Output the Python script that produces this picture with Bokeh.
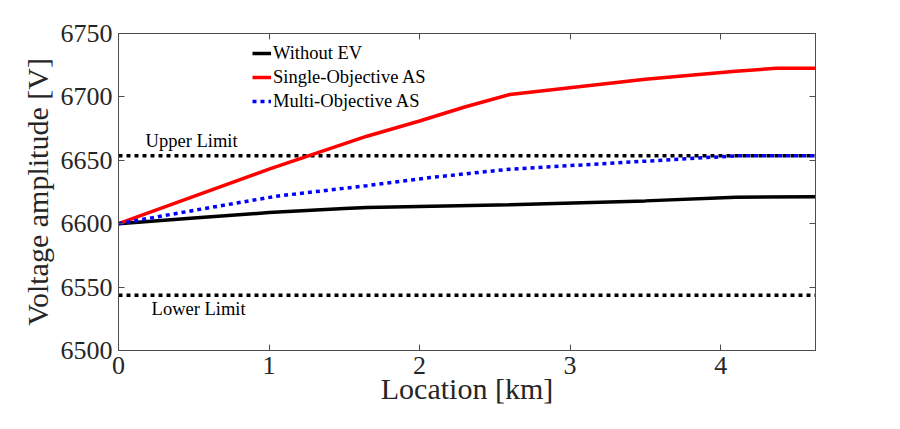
from bokeh.plotting import figure
from bokeh.models import LinearAxis, Legend, LegendItem, FixedTicker, Range1d
from bokeh.core.properties import value
from bokeh.embed import file_html
from bokeh.resources import INLINE

# ---------------- data ----------------
X_MAX = 4.63
Y_MIN, Y_MAX = 6500, 6750
x_ticks = [0, 1, 2, 3, 4]
y_ticks = [6500, 6550, 6600, 6650, 6700, 6750]

without_x = [0, 0.5, 1.0, 1.5, 1.65, 2.6, 3.5, 4.1, 4.63]
without_y = [6600, 6604.5, 6608.8, 6612, 6612.8, 6615, 6618, 6620.8, 6621.3]

single_x = [0, 0.5, 1.0, 1.65, 2.0, 2.3, 2.6, 3.5, 4.1, 4.37, 4.63]
single_y = [6600, 6621.5, 6643, 6669, 6681, 6692, 6701.9, 6714, 6720.3, 6722.5, 6722.5]

multi_x = [0, 0.5, 1.05, 1.65, 2.07, 2.6, 3.5, 4.1, 4.63]
multi_y = [6600, 6610.5, 6621.7, 6630, 6636.4, 6643, 6649.3, 6653.5, 6653.5]

upper_limit = 6653.6
lower_limit = 6543.5
upper_label = "Upper Limit"
lower_label = "Lower Limit"
upper_label_pos = (0.18, 6665.6)
lower_label_pos = (0.22, 6532.6)

series_names = ["Without EV", "Single-Objective AS", "Multi-Objective AS"]

# ---------------- styling ----------------
FONT = "Liberation Serif"
AX = "#4d4d4d"

p = figure(width=884, height=413, output_backend="svg", toolbar_location=None,
           x_range=Range1d(0, X_MAX), y_range=Range1d(Y_MIN, Y_MAX))
p.min_border_left = 118
p.min_border_right = 69
p.min_border_top = 33
p.min_border_bottom = 63
p.grid.visible = False
p.outline_line_color = AX
p.outline_line_width = 1
p.background_fill_color = "white"
p.border_fill_color = "white"

for ax in (p.xaxis[0], p.yaxis[0]):
    ax.axis_line_color = AX
    ax.major_tick_line_color = AX
    ax.major_tick_in = 6
    ax.major_tick_out = 0
    ax.minor_tick_line_color = None
    ax.major_label_text_font = FONT
    ax.major_label_text_font_size = "26px"
    ax.major_label_text_color = "#262626"
    ax.axis_label_text_font = FONT
    ax.axis_label_text_font_size = "30px"
    ax.axis_label_text_font_style = "normal"
    ax.axis_label_text_color = "#262626"

p.xaxis[0].ticker = FixedTicker(ticks=x_ticks)
p.yaxis[0].ticker = FixedTicker(ticks=y_ticks)
p.xaxis[0].axis_label = "Location [km]"
p.yaxis[0].axis_label = "Voltage amplitude [V]"
p.xaxis[0].major_label_standoff = 6
p.xaxis[0].axis_label_standoff = -5
p.yaxis[0].major_label_standoff = 6
p.yaxis[0].axis_label_standoff = 4

# mirrored axes (ticks only, no labels)
top = LinearAxis(ticker=FixedTicker(ticks=x_ticks))
right = LinearAxis(ticker=FixedTicker(ticks=y_ticks))
for ax in (top, right):
    ax.axis_line_color = AX
    ax.major_tick_line_color = AX
    ax.major_tick_in = 6
    ax.major_tick_out = 0
    ax.minor_tick_line_color = None
    ax.major_label_text_color = None
    ax.major_label_text_font_size = "1px"
    ax.major_label_standoff = 0
p.add_layout(top, "above")
p.add_layout(right, "right")

# limit lines
p.line([0, X_MAX], [upper_limit, upper_limit], line_color="black", line_width=3.5, line_dash="4 4")
p.line([0, X_MAX], [lower_limit, lower_limit], line_color="black", line_width=3.5, line_dash="4 4")

r_black = p.line(without_x, without_y, line_color="black", line_width=3.5)
r_red = p.line(single_x, single_y, line_color="#ff0000", line_width=3.5)
r_blue = p.line(multi_x, multi_y, line_color="#0000ff", line_width=3.5, line_dash="4 4")

p.text(x=[upper_label_pos[0]], y=[upper_label_pos[1]], text=[upper_label],
       text_font=value(FONT), text_font_size="18.5px", text_baseline="middle",
       text_align="left", text_color="black")
p.text(x=[lower_label_pos[0]], y=[lower_label_pos[1]], text=[lower_label],
       text_font=value(FONT), text_font_size="18.5px", text_baseline="middle",
       text_align="left", text_color="black")

legend = Legend(items=[LegendItem(label=series_names[0], renderers=[r_black]),
                       LegendItem(label=series_names[1], renderers=[r_red]),
                       LegendItem(label=series_names[2], renderers=[r_blue])],
                location=(134, 238))
legend.border_line_color = None
legend.background_fill_alpha = 0
legend.padding = 0
legend.margin = 0
legend.spacing = 2
legend.glyph_width = 19
legend.glyph_height = 22
legend.label_height = 22
legend.label_standoff = 2
legend.label_text_font = FONT
legend.label_text_font_size = "18.5px"
legend.label_text_color = "black"
p.add_layout(legend, "center")

open("out.html", "w").write(file_html(p, INLINE))
